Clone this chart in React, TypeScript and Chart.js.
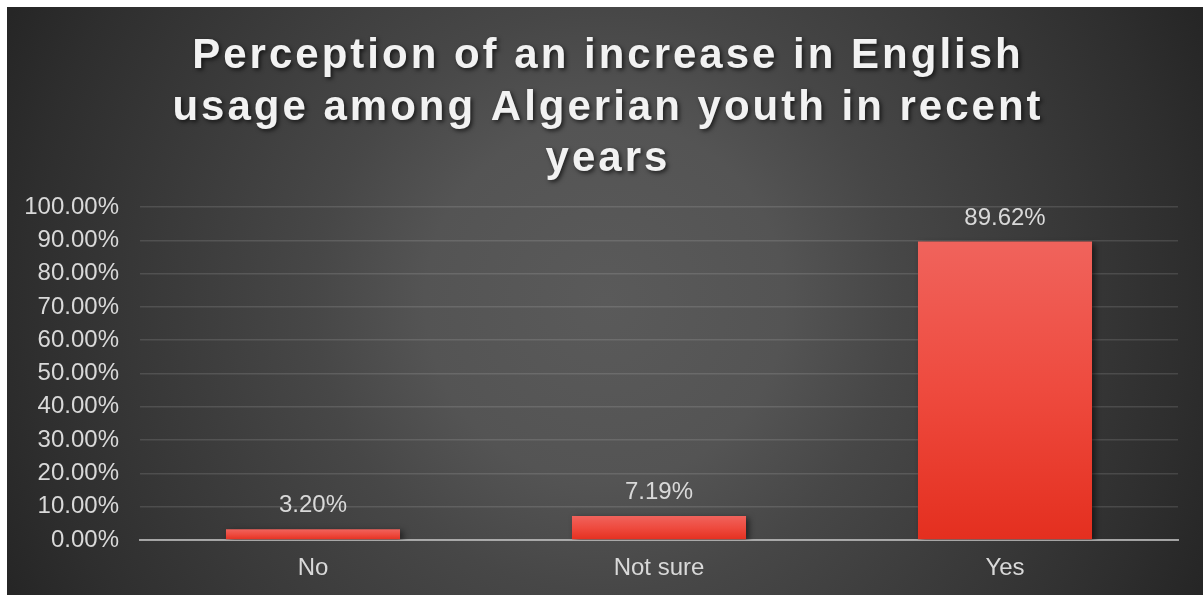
import React, { useEffect, useRef } from "react";
import { Chart, registerables } from "chart.js";

Chart.register(...registerables);

const categories = ["No", "Not sure", "Yes"];
const values = [3.2, 7.19, 89.62];
const titleLines = [
  "Perception of an increase in English",
  "usage among Algerian youth in recent",
  "years",
];
const yMax = 100;
const yStep = 10;

const FONT = '"Liberation Sans", Arial, sans-serif';

export default function App() {
  const ref = useRef<HTMLCanvasElement | null>(null);

  useEffect(() => {
    if (!ref.current) return;

    const titlePlugin = {
      id: "customTitle",
      afterDraw(chart: any) {
        const ctx = chart.ctx as any;
        ctx.save();
        ctx.font = `bold 42px ${FONT}`;
        ctx.letterSpacing = "3px";
        ctx.fillStyle = "#f2f2f2";
        ctx.textAlign = "center";
        ctx.textBaseline = "alphabetic";
        ctx.shadowColor = "rgba(0,0,0,0.65)";
        ctx.shadowBlur = 4;
        ctx.shadowOffsetX = 2;
        ctx.shadowOffsetY = 2;
        const cx = chart.width / 2 + 3;
        titleLines.forEach((line, i) => {
          ctx.fillText(line, cx, 61 + i * 51.5);
        });
        ctx.restore();
      },
    };

    const barPlugin = {
      id: "barShadowLabels",
      beforeDatasetsDraw(chart: any) {
        const ctx = chart.ctx;
        ctx.save();
        ctx.shadowColor = "rgba(0,0,0,0.55)";
        ctx.shadowBlur = 6;
        ctx.shadowOffsetX = 3;
        ctx.shadowOffsetY = 2;
      },
      afterDatasetsDraw(chart: any) {
        const ctx = chart.ctx;
        ctx.restore();
        ctx.save();
        ctx.font = `24px ${FONT}`;
        ctx.fillStyle = "#d9d9d9";
        ctx.textAlign = "center";
        ctx.textBaseline = "alphabetic";
        const meta = chart.getDatasetMeta(0);
        meta.data.forEach((bar: any, i: number) => {
          ctx.fillText(values[i].toFixed(2) + "%", bar.x, bar.y - 17);
        });
        ctx.restore();
      },
    };

    const chart = new Chart(ref.current, {
      type: "bar",
      data: {
        labels: categories,
        datasets: [
          {
            data: values,
            backgroundColor: (c: any) => {
              const ch = c.chart;
              const area = ch.chartArea;
              if (!area || c.dataIndex === undefined) return "#ea3a2c";
              const y = ch.scales.y;
              const top = y.getPixelForValue(values[c.dataIndex]);
              const bottom = y.getPixelForValue(0);
              if (!isFinite(top) || bottom - top < 1) return "#ea3a2c";
              const g = ch.ctx.createLinearGradient(0, top, 0, bottom);
              g.addColorStop(0, "#f0635c");
              g.addColorStop(0.5, "#ee4a3e");
              g.addColorStop(1, "#e42f1f");
              return g;
            },
            borderWidth: 0,
            categoryPercentage: 1,
            barPercentage: 0.503,
          },
        ],
      },
      options: {
        animation: false,
        responsive: true,
        maintainAspectRatio: false,
        layout: { padding: { top: 200, right: 25, bottom: 7, left: 0 } },
        plugins: {
          legend: { display: false },
          title: { display: false },
          tooltip: { enabled: false },
        },
        scales: {
          x: {
            z: 1,
            grid: { display: false, drawTicks: false },
            border: { display: true, color: "rgba(190,190,190,0.8)", width: 2 },
            ticks: {
              color: "#d9d9d9",
              font: { family: FONT, size: 24 },
              padding: 14,
            },
            afterFit: (s: any) => {
              s.height = 48;
            },
          },
          y: {
            min: 0,
            max: yMax,
            grid: {
              color: "rgba(255,255,255,0.12)",
              lineWidth: 1.5,
              drawTicks: false,
            },
            border: { display: false },
            ticks: {
              stepSize: yStep,
              color: "#d9d9d9",
              font: { family: FONT, size: 24 },
              padding: 21,
              callback: (v: any) => Number(v).toFixed(2) + "%",
            },
            afterFit: (s: any) => {
              s.width = 133;
            },
          },
        },
      },
      plugins: [barPlugin, titlePlugin],
    });

    return () => chart.destroy();
  }, []);

  return (
    <div
      style={{
        position: "absolute",
        left: 7,
        top: 7,
        width: 1196,
        height: 588,
        background:
          "radial-gradient(680px circle at 50% 50%, #5a5a5a 0px, #545454 180px, #474747 290px, #2e2e2e 580px, #262626 660px)",
      }}
    >
      <canvas ref={ref} />
    </div>
  );
}
